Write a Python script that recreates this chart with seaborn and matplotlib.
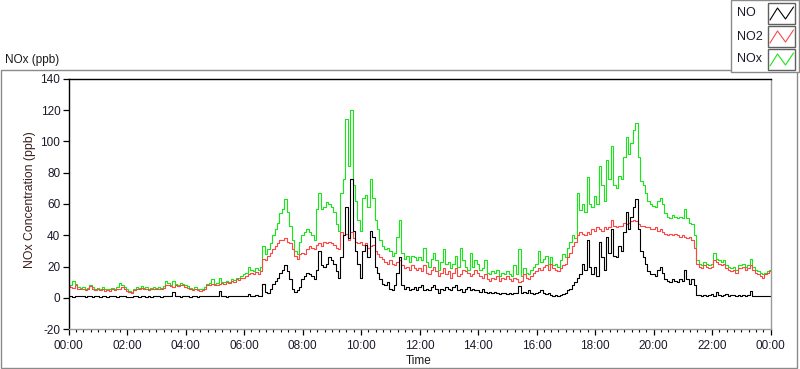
import numpy as np
import pandas as pd
import matplotlib
matplotlib.use("Agg")
import matplotlib.pyplot as plt
import seaborn as sns
from matplotlib.patches import Rectangle
from matplotlib.lines import Line2D

# ---------------- data (5-minute readings, 00:00 .. 24:00) ----------------
minutes = np.arange(0, 1441, 5)

no = [
    1, 1, 0.8, 1, 1, 1.2, 1, 0.8, 1, 1, 0.8, 1,                 # 00h
    1, 0.8, 1, 1, 0.8, 1, 1, 1, 0.8, 1, 1, 1,                   # 01h
    0.8, 0.5, 0.8, 1, 1, 0.8, 1, 1, 0.8, 1, 0.8, 1,             # 02h
    1, 1, 0.8, 1, 1, 1, 1, 3.5, 1, 1, 0.8, 1,                   # 03h
    1, 1, 0.8, 1, 1, 0.8, 1, 1, 1, 1, 1, 1,                     # 04h
    1, 1.2, 4.5, 1, 1, 0.8, 1, 1, 1.5, 1, 1, 1.2,               # 05h
    1, 1.5, 2.5, 1.5, 1, 2, 1, 1.5, 9, 4, 3, 6,                 # 06h
    9, 11, 13, 16, 18, 21, 17, 12, 6, 4, 5, 7,                  # 07h
    12, 14, 16, 15, 14, 12, 18, 30, 21, 20, 22, 26,             # 08h
    24, 22, 17, 13, 26, 40, 58, 38, 76, 43, 30, 22,             # 09h
    13, 30, 34, 26, 43, 39, 20, 16, 12, 9, 8, 10,               # 10h
    6, 5, 8, 16, 26, 8, 6, 7, 5, 6, 7, 5,                       # 11h
    7, 8, 5, 6, 5, 7, 8, 6, 3, 6, 5, 7,                         # 12h
    6, 5, 7, 8, 5, 6, 4, 6, 7, 5, 6, 5,                         # 13h
    5, 4, 6, 4, 3, 4, 3, 4, 3, 2.5, 3, 3,                       # 14h
    2.5, 3, 2.5, 3, 3, 7.5, 3, 4, 3, 5, 3, 2.5,                 # 15h
    3, 4, 5, 3, 2.5, 3, 2, 1.5, 2, 1.5, 2, 2.5,                 # 16h
    3, 5, 6, 8, 10, 13, 15, 22, 18, 37, 20, 15,                 # 17h
    20, 14, 36, 26, 18, 39, 29, 44, 27, 26, 33, 30,             # 18h
    42, 55, 44, 52, 58, 63, 44, 30, 26, 22, 17, 15,             # 19h
    15, 14, 18, 20, 16, 12, 11, 10, 12, 11, 10, 12,             # 20h
    11, 18, 12, 9, 12, 8, 2, 2, 1.5, 2, 1.5, 2,                 # 21h
    2.5, 1.5, 4, 2, 1.5, 2, 2.5, 1.5, 2, 2, 1.5, 2,             # 22h
    1.5, 2, 1.5, 2, 4.5, 1.5, 1, 1.5, 1.5, 1, 1.5, 1,           # 23h
    1,
]

no2 = [
    7.5, 7, 6.5, 8, 6, 5.5, 6, 5, 5.5, 7.5, 6, 5,               # 00h
    5.5, 5, 6, 4.5, 5, 4.5, 5.5, 5, 6, 5.5, 7, 6,               # 01h
    4.5, 3.5, 3, 5, 6, 5.5, 6.5, 5.5, 6, 5, 5.5, 6,             # 02h
    5.5, 6, 5.5, 6.5, 8, 8.5, 7.5, 7, 8, 7.5, 8.5, 8,           # 03h
    7, 6.5, 5.5, 5, 6, 5, 4.5, 5, 6, 8, 8.5, 9,                 # 04h
    8, 8.5, 9, 9.5, 9, 10, 9.5, 11, 10, 12, 11.5, 13,           # 05h
    13, 14, 15.5, 16, 15, 16.5, 15.5, 17, 25, 24, 27, 29,       # 06h
    31, 33, 35, 37, 37, 38, 36, 35, 31, 27, 25, 28,             # 07h
    29, 28, 31, 33, 32, 31, 34, 35, 33, 36, 35, 36,             # 08h
    35, 34, 32, 31, 42, 40, 41, 37, 42, 38, 36, 35,             # 09h
    36, 34, 35, 32, 33, 34, 30, 28, 26, 25, 23, 22,             # 10h
    24, 22, 21, 23, 24, 21, 19, 20, 18, 21, 19, 18,             # 11h
    19, 17, 21, 16, 15, 18, 20, 17, 14, 16, 19, 15,             # 12h
    17, 13, 16, 19, 14, 15, 18, 17, 16, 14, 15, 18,             # 13h
    16, 14, 13, 15, 12, 11, 13, 12, 14, 11, 13, 12,             # 14h
    14, 12, 11, 13, 12, 10, 11, 15, 13, 12, 14, 16,             # 15h
    17, 19, 18, 20, 21, 18, 22, 19, 18, 17, 19, 21,             # 16h
    22, 26, 29, 33, 36, 40, 42, 41, 40, 42, 41, 44,             # 17h
    43, 45, 44, 43, 45, 44, 45, 50, 46, 45, 46, 46,             # 18h
    48, 47, 48, 49, 50, 49, 47, 46, 46, 45, 45, 44,             # 19h
    44, 45, 43, 44, 42, 41, 40, 41, 40, 41, 40, 39,             # 20h
    40, 39, 38, 39, 37, 32, 22, 20, 19, 21, 20, 19,             # 21h
    20, 24, 23, 22, 21, 22, 19, 18, 17, 18, 16, 19,             # 22h
    19, 20, 18, 19, 21, 18, 16, 15, 14, 13, 15, 16,             # 23h
    17,
]

nox = [
    8.5, 8, 10.8, 9, 7, 6.5, 7, 6, 6.5, 8.5, 7, 6,              # 00h
    6.5, 6, 7, 5.5, 6, 5.5, 6.5, 6, 7, 9.7, 8, 7,               # 01h
    5.5, 4.5, 4, 6, 7, 6.5, 7.5, 6.5, 7, 6, 6.5, 7,             # 02h
    6.5, 7, 6.5, 7.5, 11, 9.5, 8.5, 11, 9, 8.5, 9.5, 9,         # 03h
    8, 7.5, 6.5, 6, 7, 6, 5.5, 6, 7, 9, 9.5, 12,                # 04h
    9, 9.5, 13, 10.5, 10, 11, 10.5, 12, 11.5, 13, 12.5, 14,     # 05h
    15, 16, 20, 18, 17, 19, 18, 20, 33, 28, 31, 35,             # 06h
    40, 44, 48, 54, 57, 63, 55, 46, 37, 30, 28, 36,             # 07h
    40, 42, 44, 42, 40, 37, 57, 67, 57, 58, 61, 60,             # 08h
    58, 55, 47, 43, 67, 76, 114, 84, 120, 72, 62, 50,           # 09h
    43, 64, 66, 58, 76, 64, 50, 44, 37, 33, 31, 32,             # 10h
    30, 27, 29, 39, 50, 29, 25, 27, 23, 27, 26, 24,             # 11h
    26, 24, 32, 23, 20, 25, 29, 24, 18, 23, 31, 22,             # 12h
    23, 19, 22, 27, 20, 32, 24, 20, 18, 29, 20, 24,             # 13h
    22, 18, 19, 24, 16, 15, 17, 16, 18, 14, 16, 15,             # 14h
    17, 15, 14, 21, 15, 31, 14, 19, 16, 15, 18, 20,             # 15h
    22, 30, 23, 25, 27, 22, 26, 21, 22, 20, 24, 28,             # 16h
    26, 32, 36, 40, 38, 67, 56, 60, 55, 77, 60, 58,             # 17h
    65, 60, 84, 72, 62, 88, 76, 97, 72, 70, 78, 76,             # 18h
    90, 103, 92, 99, 107, 112, 90, 75, 72, 67, 62, 60,          # 19h
    59, 58, 62, 64, 60, 54, 52, 51, 53, 52, 51, 52,             # 20h
    51, 57, 51, 48, 47, 40, 24, 22, 21, 23, 22, 21,             # 21h
    22, 29, 25, 24, 23, 24, 21, 20, 19, 20, 18, 21,             # 22h
    21, 22, 20, 21, 25, 20, 18, 17, 16, 15, 16, 17,             # 23h
    18,
]

series_names = ["NO", "NO2", "NOx"]
x_tick_minutes = [0, 120, 240, 360, 480, 600, 720, 840, 960, 1080, 1200, 1320, 1440]
x_tick_labels = ["00:00", "02:00", "04:00", "06:00", "08:00", "10:00", "12:00",
                 "14:00", "16:00", "18:00", "20:00", "22:00", "00:00"]
y_ticks = [-20, 0, 20, 40, 60, 80, 100, 120, 140]

# ---------------- styling ----------------
sns.set_style("ticks")
plt.rcParams['font.family'] = ['Liberation Sans', 'DejaVu Sans']
plt.rcParams['axes.unicode_minus'] = False

W, H = 800, 369
def fx(px):
    return px / W
def fy(py):
    return 1 - py / H

fig = plt.figure(figsize=(W / 100, H / 100), dpi=100)
fig.patch.set_facecolor("white")

# outer frame
fig.add_artist(Rectangle((fx(0.5), fy(367.5)), fx(797) - fx(0.5), fy(69.5) - fy(367.5),
                         transform=fig.transFigure, fill=False, edgecolor="#8a8a8a", lw=1.0))

ax = fig.add_axes([fx(68.7), fy(329.3), fx(770.5) - fx(68.7), fy(78.7) - fy(329.3)])
ax.set_facecolor("white")

df = pd.DataFrame({"minute": minutes, "NO": no, "NO2": no2, "NOx": nox})
long = df.melt(id_vars="minute", var_name="series", value_name="ppb")
palette = {"NOx": "#19e619", "NO2": "#ff4646", "NO": "#000000"}
for name in ["NOx", "NO2", "NO"]:
    sns.lineplot(data=long[long["series"] == name], x="minute", y="ppb",
                 color=palette[name], lw=0.8, ax=ax, legend=False,
                 estimator=None, drawstyle="steps-mid")

ax.set_xlim(0, 1440)
ax.set_ylim(-20, 140)
ax.set_xticks(x_tick_minutes)
ax.set_xticklabels(x_tick_labels)
ax.set_xticks(np.arange(0, 1441, 15), minor=True)
ax.set_yticks(y_ticks)
ax.set_yticklabels([str(v) for v in y_ticks])
ax.set_xlabel("")
ax.set_ylabel("")
ax.tick_params(axis="both", which="major", direction="out", length=4, width=0.9,
               color="black", labelsize=8.5, labelcolor="#1a1a2a")
ax.tick_params(axis="x", which="major", pad=4)
ax.tick_params(axis="y", which="major", pad=2)
ax.tick_params(axis="x", which="minor", direction="out", length=2.5, width=0.8, color="black")
ax.tick_params(axis="y", which="minor", length=0)
for s in ["left", "top"]:
    ax.spines[s].set_color("black")
    ax.spines[s].set_linewidth(1.0)
for s in ["right", "bottom"]:
    ax.spines[s].set_color("#9a9a9a")
    ax.spines[s].set_linewidth(1.0)

# texts
fig.text(fx(5), fy(59.5), "NOx (ppb)", fontsize=8.5, va="center", ha="left", color="#1a1a1a")
fig.text(fx(30.5), fy(200), "NOx Concentration (ppb)", fontsize=8.8, rotation=90,
         va="center", ha="center", color="#3a1f1f")
fig.text(fx(418.5), fy(361), "Time", fontsize=8.5, va="center", ha="center", color="#1a1a1a")

# legend box
fig.add_artist(Rectangle((fx(731), fy(72)), fx(799) - fx(731), fy(0) - fy(72),
                         transform=fig.transFigure, facecolor="white",
                         edgecolor="#8a8a8a", lw=1.0, zorder=5))
leg_colors = ["#000000", "#ff4646", "#19e619"]
for i, (name, col) in enumerate(zip(series_names, leg_colors)):
    top = 3 + i * 23
    fig.text(fx(736.5), fy(top + 10.5), name, fontsize=9, va="center", ha="left",
             color="#1a1a2a", zorder=6)
    fig.add_artist(Rectangle((fx(768), fy(top + 21)), fx(795) - fx(768), fy(top) - fy(top + 21),
                             transform=fig.transFigure, facecolor="white",
                             edgecolor="#606060", lw=1.0, zorder=6))
    zx = [770, 777.5, 785.5, 793.5]
    zy = [top + 17, top + 5, top + 16, top + 4]
    fig.add_artist(Line2D([fx(v) for v in zx], [fy(v) for v in zy],
                          transform=fig.transFigure, color=col, lw=0.8, zorder=7))

fig.savefig("out.png", dpi=100, facecolor="white")
